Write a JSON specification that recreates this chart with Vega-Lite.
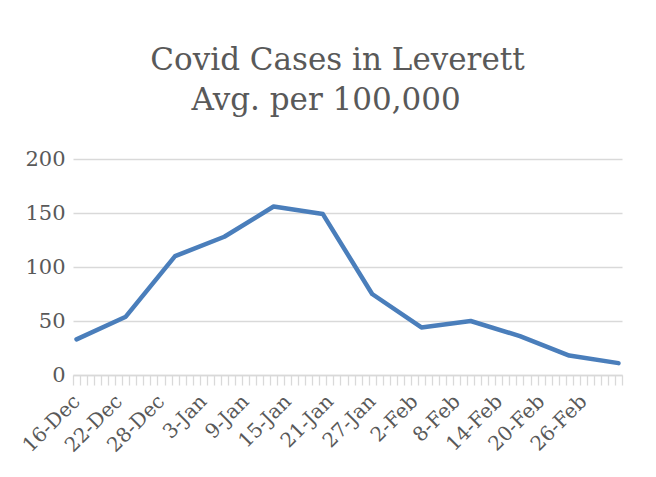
{
  "$schema": "https://vega.github.io/schema/vega-lite/v6.json",
  "autosize": "none",
  "width": 549,
  "height": 216,
  "padding": {"left": 73, "top": 159, "right": 34, "bottom": 102},
  "background": "white",
  "title": {
    "text": ["Covid Cases in Leverett", "Avg. per 100,000\u2800"],
    "font": "DejaVu Serif",
    "fontSize": 31,
    "fontWeight": "normal",
    "color": "#595959",
    "lineHeight": 40,
    "anchor": "middle",
    "frame": "group",
    "dx": -10,
    "offset": 31
  },
  "data": {
    "values": [
      {"date": "2020-12-16", "cases": 33},
      {"date": "2020-12-23", "cases": 54},
      {"date": "2020-12-30", "cases": 110},
      {"date": "2021-01-06", "cases": 128},
      {"date": "2021-01-13", "cases": 156},
      {"date": "2021-01-20", "cases": 149},
      {"date": "2021-01-27", "cases": 75},
      {"date": "2021-02-03", "cases": 44},
      {"date": "2021-02-10", "cases": 50},
      {"date": "2021-02-17", "cases": 36},
      {"date": "2021-02-24", "cases": 18},
      {"date": "2021-03-03", "cases": 11}
    ]
  },
  "mark": {"type": "line", "color": "#4A7EBB", "strokeWidth": 4.5, "strokeCap": "round", "strokeJoin": "round"},
  "encoding": {
    "x": {
      "field": "date",
      "type": "temporal",
      "scale": {
        "type": "utc",
        "nice": false,
        "domain": [
          {"year": 2020, "month": 12, "date": 15, "hours": 12, "utc": true},
          {"year": 2021, "month": 3, "date": 3, "hours": 12, "utc": true}
        ]
      },
      "axis": {
        "title": null,
        "values": [1608033600000,1608120000000,1608206400000,1608292800000,1608379200000,1608465600000,1608552000000,1608638400000,1608724800000,1608811200000,1608897600000,1608984000000,1609070400000,1609156800000,1609243200000,1609329600000,1609416000000,1609502400000,1609588800000,1609675200000,1609761600000,1609848000000,1609934400000,1610020800000,1610107200000,1610193600000,1610280000000,1610366400000,1610452800000,1610539200000,1610625600000,1610712000000,1610798400000,1610884800000,1610971200000,1611057600000,1611144000000,1611230400000,1611316800000,1611403200000,1611489600000,1611576000000,1611662400000,1611748800000,1611835200000,1611921600000,1612008000000,1612094400000,1612180800000,1612267200000,1612353600000,1612440000000,1612526400000,1612612800000,1612699200000,1612785600000,1612872000000,1612958400000,1613044800000,1613131200000,1613217600000,1613304000000,1613390400000,1613476800000,1613563200000,1613649600000,1613736000000,1613822400000,1613908800000,1613995200000,1614081600000,1614168000000,1614254400000,1614340800000,1614427200000,1614513600000,1614600000000,1614686400000,1614772800000],
        "labelExpr": "(round((toNumber(datum.value) - 1608033600000) / 86400000) % 6 == 0 && round((toNumber(datum.value) - 1608033600000) / 86400000) < 78) ? utcFormat(toNumber(datum.value) + 43200000, '%-d-%b') : ''",
        "labelOffset": 3.5,
        "labelAngle": -45,
        "labelAlign": "right",
        "labelBaseline": "middle",
        "labelPadding": 13,
        "labelFont": "DejaVu Serif",
        "labelFontSize": 20,
        "labelColor": "#595959",
        "labelOverlap": false,
        "labelBound": false,
        "labelFlush": false,
        "grid": false,
        "domainColor": "#d9d9d9",
        "domainWidth": 1.5,
        "tickColor": "#d9d9d9",
        "tickSize": 10,
        "tickWidth": 1.3
      }
    },
    "y": {
      "field": "cases",
      "type": "quantitative",
      "scale": {"domain": [0, 200], "nice": false},
      "axis": {
        "title": null,
        "values": [0, 50, 100, 150, 200],
        "domain": false,
        "ticks": false,
        "labelPadding": 8,
        "labelFont": "DejaVu Serif",
        "labelFontSize": 21,
        "labelColor": "#595959",
        "gridColor": "#d9d9d9",
        "gridWidth": 1.3
      }
    }
  },
  "config": {"view": {"stroke": null}}
}
